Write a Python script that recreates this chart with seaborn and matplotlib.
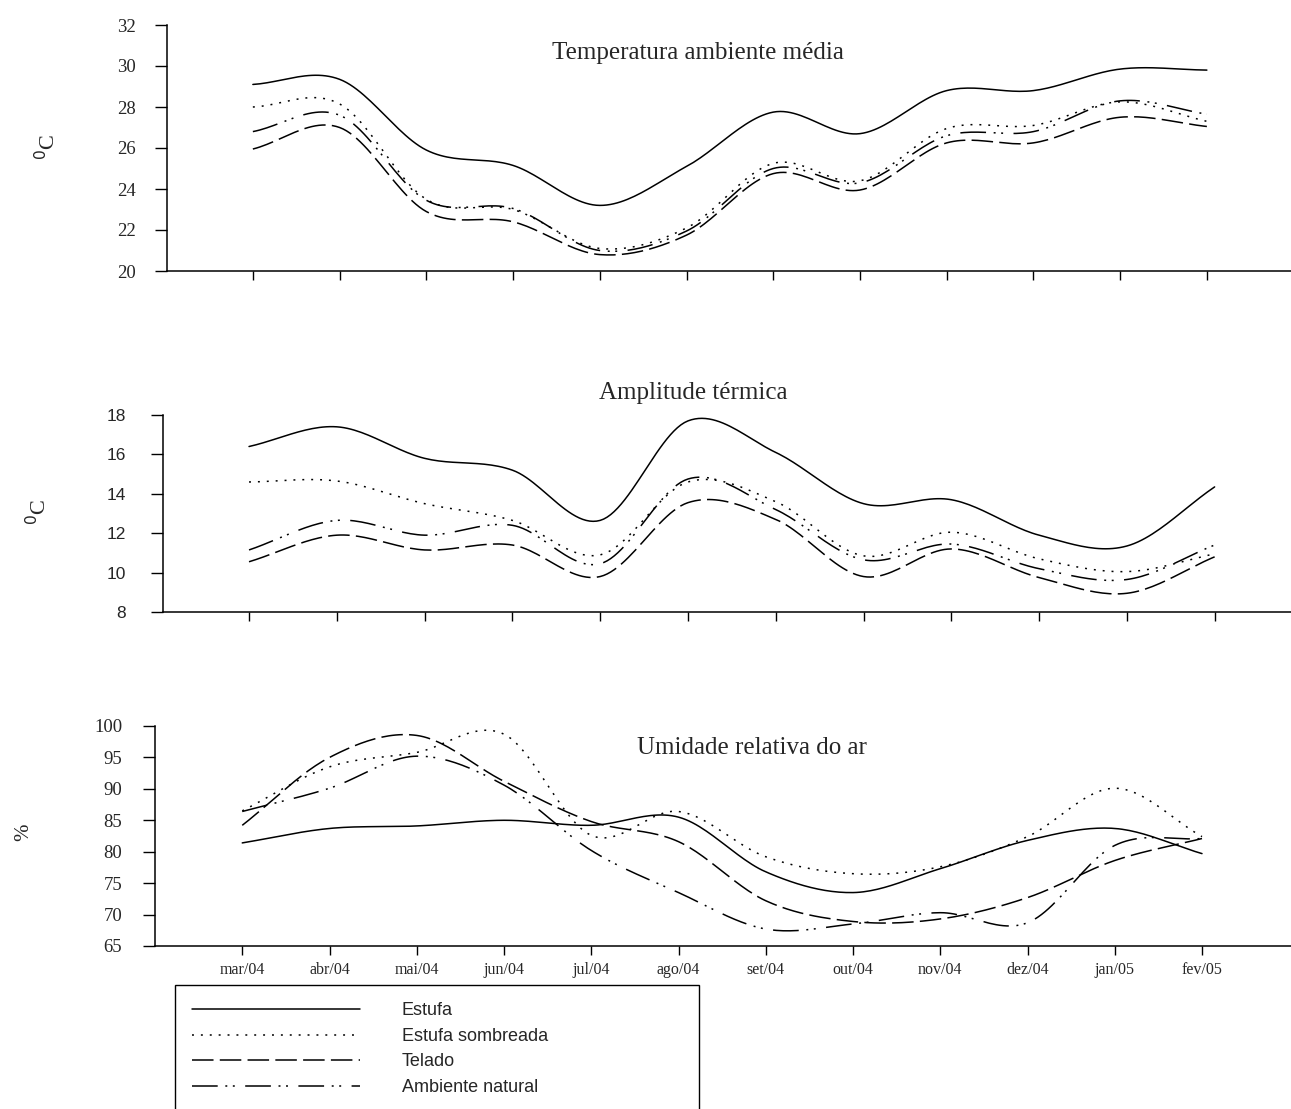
import numpy as np
import pandas as pd
import seaborn as sns
import matplotlib.pyplot as plt

sns.set_style("white")
plt.rcParams['font.family'] = ['Liberation Serif', 'DejaVu Serif']
plt.rcParams['lines.scale_dashes'] = False

# meses
meses = ['mar/04', 'abr/04', 'mai/04', 'jun/04', 'jul/04', 'ago/04',
         'set/04', 'out/04', 'nov/04', 'dez/04', 'jan/05', 'fev/05']
series = ['Estufa', 'Estufa sombreada', 'Telado', 'Ambiente natural']

# Temperatura ambiente média (oC)
temp_estufa = [29.1, 29.35, 25.9, 25.15, 23.2, 25.1, 27.75, 26.7, 28.8, 28.8, 29.85, 29.8]
temp_sombreada = [28.0, 28.15, 23.5, 23.0, 21.1, 22.1, 25.25, 24.4, 26.95, 27.1, 28.25, 27.3]
temp_telado = [25.95, 27.0, 22.9, 22.4, 20.8, 21.75, 24.75, 23.95, 26.25, 26.25, 27.5, 27.05]
temp_natural = [26.8, 27.6, 23.45, 23.05, 21.0, 21.95, 25.0, 24.3, 26.6, 26.8, 28.3, 27.65]

# Amplitude térmica (oC)
amp_estufa = [16.4, 17.4, 15.8, 15.2, 12.65, 17.7, 16.1, 13.5, 13.7, 11.9, 11.35, 14.35]
amp_sombreada = [14.6, 14.65, 13.5, 12.65, 10.9, 14.6, 13.6, 10.85, 12.05, 10.7, 10.05, 10.95]
amp_telado = [10.55, 11.9, 11.15, 11.4, 9.8, 13.55, 12.7, 9.8, 11.2, 9.75, 8.95, 10.8]
amp_natural = [11.15, 12.65, 11.9, 12.4, 10.45, 14.75, 13.2, 10.65, 11.45, 10.2, 9.65, 11.4]

# Umidade relativa do ar (%)
ur_estufa = [81.4, 83.7, 84.1, 85.0, 84.2, 85.5, 76.8, 73.5, 77.3, 81.8, 83.7, 79.7]
ur_sombreada = [86.5, 93.5, 95.8, 98.7, 82.6, 86.4, 79.2, 76.5, 77.6, 82.4, 90.1, 82.4]
ur_telado = [84.2, 95.0, 98.5, 91.2, 84.8, 81.6, 72.2, 68.9, 69.3, 72.7, 78.6, 82.1]
ur_natural = [86.4, 90.1, 95.2, 90.6, 80.2, 73.5, 67.7, 68.5, 70.3, 68.7, 81.0, 82.1]

# tracos: continuo, pontilhado, tracejado, traco-ponto-ponto (em pontos)
tracos = {'Estufa': '',
          'Estufa sombreada': (1.4, 5.0),
          'Telado': (15.5, 4.5),
          'Ambiente natural': (18.5, 5.5, 1.4, 4.0, 1.4, 7.5)}


def suavizar(y, n=25):
    # curva suavizada (estilo "linha suavizada" do Excel) so para desenhar
    y = np.asarray(y, float)
    m = np.empty_like(y)
    m[1:-1] = (y[2:] - y[:-2]) / 2
    m[0] = y[1] - y[0]
    m[-1] = y[-1] - y[-2]
    xs, ys = [], []
    for i in range(len(y) - 1):
        t = np.linspace(0, 1, n, endpoint=(i == len(y) - 2))
        h00 = 2 * t**3 - 3 * t**2 + 1
        h10 = t**3 - 2 * t**2 + t
        h01 = -2 * t**3 + 3 * t**2
        h11 = t**3 - t**2
        ys.append(h00 * y[i] + h10 * m[i] + h01 * y[i + 1] + h11 * m[i + 1])
        xs.append(i + t)
    return np.concatenate(xs), np.concatenate(ys)


def montar(valores):
    partes = []
    for nome, v in zip(series, valores):
        xs, ys = suavizar(v)
        partes.append(pd.DataFrame({'mes': xs, 'valor': ys, 'serie': nome}))
    return pd.concat(partes, ignore_index=True)


W, H = 1291, 1109
fig = plt.figure(figsize=(W / 100, H / 100), dpi=100)

# valores, left px, top px, bottom px, xlim, ylim, passo
paineis = [
    ([temp_estufa, temp_sombreada, temp_telado, temp_natural], 167, 25, 271, (-0.99, 11.97), (20, 32), 2),
    ([amp_estufa, amp_sombreada, amp_telado, amp_natural], 163, 415, 612, (-0.98, 11.87), (8, 18), 2),
    ([ur_estufa, ur_sombreada, ur_telado, ur_natural], 155, 726, 946, (-1.0, 12.02), (65, 100), 5),
]

axes = []
for valores, lpx, tpx, bpx, xlim, ylim, passo in paineis:
    ax = fig.add_axes([lpx / W, 1 - bpx / H, 1 - lpx / W, (bpx - tpx) / H])
    df = montar(valores)
    sns.lineplot(data=df, x='mes', y='valor', style='serie', style_order=series,
                 dashes=tracos, color='black', linewidth=1.1, estimator=None,
                 sort=False, legend=False, ax=ax)
    ax.set_xlim(*xlim)
    ax.set_ylim(*ylim)
    ax.set_yticks(np.arange(ylim[0], ylim[1] + 0.1, passo))
    ax.set_xticks(range(len(meses)))
    ax.set_xlabel('')
    ax.set_ylabel('')
    sns.despine(ax=ax)
    for s in ['left', 'bottom']:
        ax.spines[s].set_linewidth(1.1)
        ax.spines[s].set_color('black')
    ax.tick_params(axis='y', direction='out', length=8.6, width=1.0, color='black', left=True)
    ax.tick_params(axis='x', direction='out', length=6.5, width=1.0, color='black', bottom=True)
    axes.append(ax)

ax1, ax2, ax3 = axes
ax1.set_xticklabels([])
ax2.set_xticklabels([])
ax1.tick_params(axis='y', pad=14, labelsize=13.5)
ax2.tick_params(axis='y', pad=18, labelsize=12.5)
for t in ax2.get_yticklabels():
    t.set_fontfamily('Liberation Sans')
ax3.tick_params(axis='y', pad=15, labelsize=13.5)
ax3.set_xticklabels(meses, fontsize=11.5)
ax3.tick_params(axis='x', pad=5)

# titulos
fig.text(698 / W, 1 - 53 / H, 'Temperatura ambiente média', ha='center', va='center', fontsize=18)
fig.text(693 / W, 1 - 393 / H, 'Amplitude térmica', ha='center', va='center', fontsize=18)
fig.text(752 / W, 1 - 748 / H, 'Umidade relativa do ar', ha='center', va='center', fontsize=18)

# rotulos dos eixos
fig.text(48 / W, 1 - 147 / H, r'$^{0}$C', rotation=90, ha='center', va='center', fontsize=16)
fig.text(39 / W, 1 - 512 / H, r'$^{0}$C', rotation=90, ha='center', va='center', fontsize=16)
fig.text(24 / W, 1 - 832 / H, '%', rotation=90, ha='center', va='center', fontsize=15)

# legenda
handles = ax3.get_lines()[:4]
leg = fig.legend(handles, series, loc='upper left',
                 bbox_to_anchor=(175 / W, 0, 524 / W, 1 - 985 / H), mode='expand',
                 borderaxespad=0, frameon=True, fancybox=False, framealpha=1,
                 edgecolor='black', handlelength=9.3, handletextpad=2.3,
                 borderpad=0.95, labelspacing=0.48,
                 prop={'family': 'Liberation Sans', 'size': 13})
leg.get_frame().set_linewidth(1.0)

fig.savefig('out.png', dpi=100)
